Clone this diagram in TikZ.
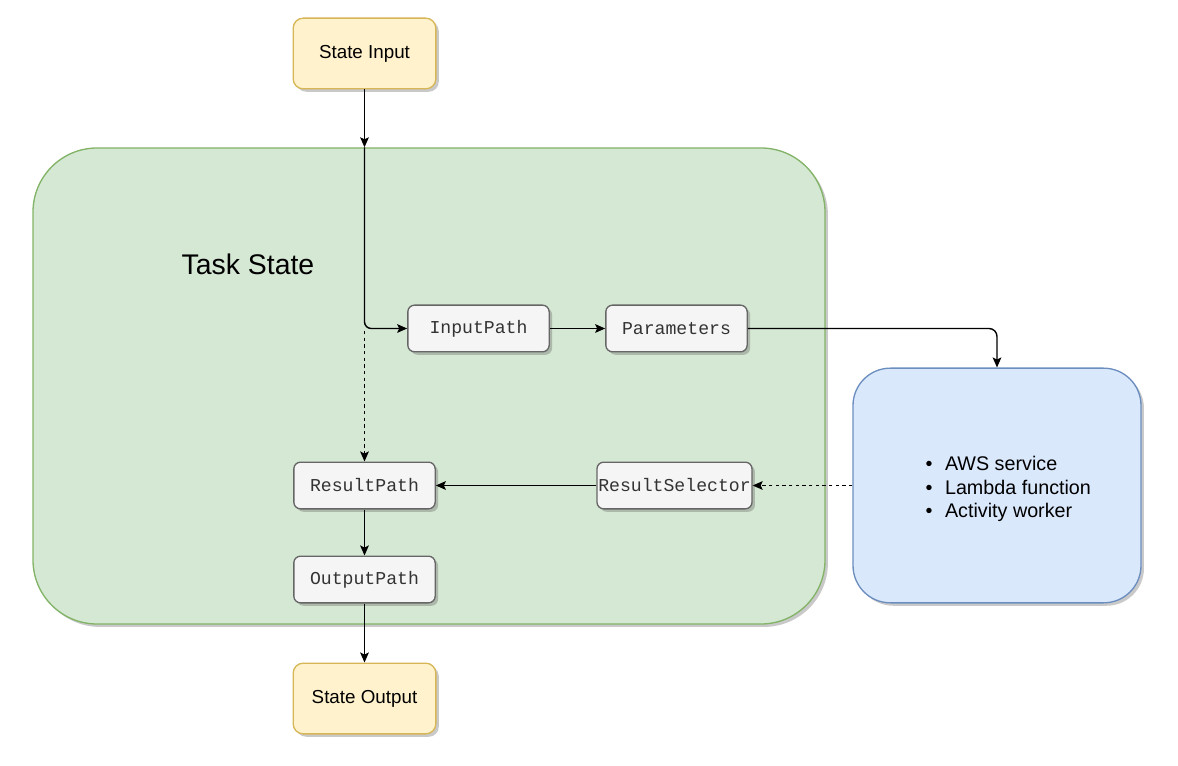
\documentclass[tikz,border=0pt]{standalone}
\usepackage{fontspec}
\setmainfont{Liberation Sans}
\setmonofont{Liberation Mono}
\usetikzlibrary{arrows.meta,shadows}
\definecolor{yfill}{HTML}{FFF2CC}
\definecolor{ystroke}{HTML}{D6B656}
\definecolor{gfill}{HTML}{D5E8D4}
\definecolor{gstroke}{HTML}{82B366}
\definecolor{bfill}{HTML}{DAE8FC}
\definecolor{bstroke}{HTML}{6C8EBF}
\definecolor{sfill}{HTML}{F5F5F5}
\definecolor{sstroke}{HTML}{666666}
\definecolor{stext}{HTML}{333333}
\tikzset{
  shad/.style={drop shadow={shadow xshift=2.2pt,shadow yshift=-2.2pt,opacity=0.3,fill=black!70}},
  statebox/.style={shad,draw=ystroke,fill=yfill,line width=1pt,rounded corners=7.5pt,
    minimum width=107pt,minimum height=53pt,font=\fontsize{14.1}{17}\selectfont,text=black},
  stepbox/.style={shad,draw=sstroke,fill=sfill,line width=1pt,rounded corners=5pt,
    minimum height=35pt,font=\ttfamily\fontsize{13.6}{16}\selectfont,text=stext},
  arr/.style={line width=1.05pt,-{Stealth[length=7.5pt,width=6.5pt,inset=1.5pt]}},
  darr/.style={arr,dash pattern=on 2.5pt off 2.5pt},
}
\begin{document}
\begin{tikzpicture}[x=0.75pt,y=-0.75pt]
\useasboundingbox (0,0) rectangle (1178,766);
% containers
\node[shad,draw=gstroke,fill=gfill,line width=1pt,rounded corners=48pt,
  minimum width=594pt,minimum height=357pt] (task) at (429,386) {};
\node[font=\fontsize{21.3}{25}\selectfont] (tasklbl) at (248,264) {Task State};
\node[shad,draw=bstroke,fill=bfill,line width=1pt,rounded corners=28pt,
  minimum width=216pt,minimum height=176pt] (svc) at (997,485.5) {};
\node[anchor=west,align=left,font=\fontsize{14.8}{17.6}\selectfont] (svclist) at (921,489)
  {\makebox[14.5pt][l]{•}AWS service\\\makebox[14.5pt][l]{•}Lambda function\\\makebox[14.5pt][l]{•}Activity worker};
% states
\node[statebox] (sin) at (364.5,53.5) {State Input};
\node[statebox] (sout) at (364.5,698.5) {State Output};
% steps
\node[stepbox,minimum width=106pt] (ip) at (478.5,328.5) {InputPath};
\node[stepbox,minimum width=106pt] (pm) at (676.5,328.5) {Parameters};
\node[stepbox,minimum width=116pt,inner sep=1pt] (rs) at (674.5,485.5) {ResultSelector};
\node[stepbox,minimum width=106pt] (rp) at (364.5,485.5) {ResultPath};
\node[stepbox,minimum width=106pt] (op) at (364.5,579.5) {OutputPath};
% connectors
\coordinate (entry) at (sin.south |- task.north);
\coordinate (junc) at (sin.south |- ip.west);
\draw[arr] (sin.south) -- (entry);
\draw[arr,rounded corners=5pt] (entry) -- (junc) -- (ip.west);
\draw[darr] ([yshift=-2pt]junc) -- (rp.north);
\draw[arr] (ip.east) -- (pm.west);
\draw[arr,rounded corners=6pt] (pm.east) -| (svc.north);
\draw[darr] (svc.west) -- (rs.east);
\draw[arr] (rs.west) -- (rp.east);
\draw[arr] (rp.south) -- (op.north);
\draw[arr] (op.south) -- (sout.north);
\end{tikzpicture}
\end{document}
